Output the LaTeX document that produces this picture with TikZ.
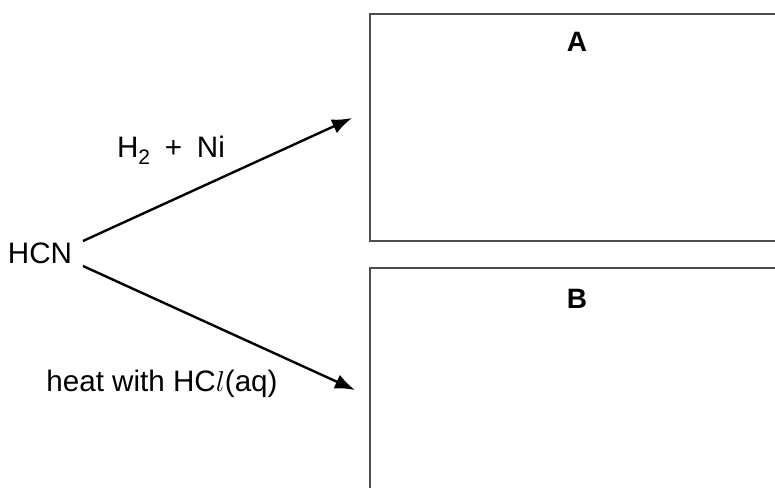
\documentclass[tikz,border=0pt]{standalone}
\usepackage{fontspec}
\setmainfont{Liberation Sans}
\usetikzlibrary{arrows.meta, positioning}

\begin{document}
\begin{tikzpicture}[x=0.5pt, y=-0.5pt,
    font=\fontsize{14.8}{17}\selectfont,
    box/.style={draw=black!70, line width=0.8pt, anchor=north west, inner sep=0pt},
    react/.style={line width=1.2pt, -{Latex[length=10pt,width=7.5pt]}}]
  \useasboundingbox (0,0) rectangle (775,487);
  \clip (0,0) rectangle (775,487);

  % Kotak produk
  \node[box, minimum width=215pt, minimum height=113.5pt] (boxA) at (369,13) {};
  \node[box, minimum width=215pt, minimum height=125pt] (boxB) at (369,267) {};
  \node[font=\fontsize{14}{16}\selectfont\bfseries] (labA) at (577,42) {A};
  \node[font=\fontsize{14}{16}\selectfont\bfseries] (labB) at (577,299) {B};

  % Reaktan
  \node (hcn) at (40,253) {HCN};
  \coordinate (up0) at (83,241);
  \coordinate (up1) at (352,118);
  \coordinate (dn0) at (83,266);
  \coordinate (dn1) at (355,390);
  \draw[react] (up0) -- (up1);
  \draw[react] (dn0) -- (dn1);

  % Kondisi reaksi
  \node (condA) at (171,150) {H\raisebox{-0.45ex}{\fontsize{10.5}{12}\selectfont 2}\hspace{0.5em}+\hspace{0.5em}Ni};
  \node (condB) at (162,384) {heat with HC$l$(aq)};
\end{tikzpicture}
\end{document}
